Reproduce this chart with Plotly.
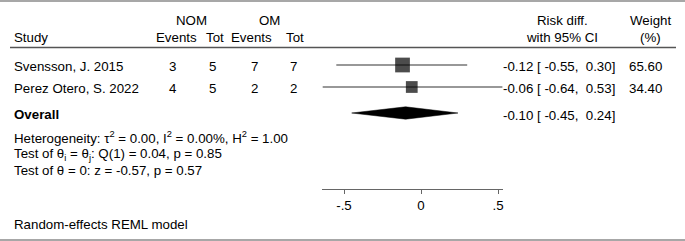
import plotly.graph_objects as go

# ---------------- data ----------------
studies = ["Svensson, J. 2015", "Perez Otero, S. 2022"]
nom_events = [3, 4]
nom_tot = [5, 5]
om_events = [7, 2]
om_tot = [7, 2]
risk_diff = [-0.12, -0.06]
ci_low = [-0.55, -0.64]
ci_high = [0.30, 0.53]
weights = [65.60, 34.40]

overall_label = "Overall"
overall_rd = -0.10
overall_low = -0.45
overall_high = 0.24

tau2, i2, h2 = 0.00, 0.00, 1.00
q_stat, q_df, q_p = 0.04, 1, 0.85
z_stat, z_p = -0.57, 0.57
model_note = "Random-effects REML model"

tick_vals = [-0.5, 0, 0.5]
tick_text = ["-.5", "0", ".5"]

# ---------------- layout constants (pixels) ----------------
W, H = 685, 241
FONT = "Liberation Sans, Arial, Helvetica, sans-serif"
FS = 13.3
row_y = [65, 87]
overall_y = 113
text_dy = 1
col_x = {"nom_ev": 172, "nom_tot": 213, "om_ev": 254, "om_tot": 293}
hdr_x = {"nom": 191, "om": 269, "nom_ev": 176, "nom_tot": 215, "om_ev": 252, "om_tot": 295}
ci_text_right = 617
weight_x = 645
axis_y = 189
xr = [min(ci_low), max(ci_high)]
px_per_unit = 154.0
x0_px = 421.0

fig = go.Figure()

# CI lines
for i in range(len(studies)):
    fig.add_trace(go.Scatter(
        x=[ci_low[i], ci_high[i]], y=[row_y[i], row_y[i]],
        mode="lines", line=dict(color="#333333", width=1.2),
        hoverinfo="skip", showlegend=False, cliponaxis=False))

# squares sized by weight
fig.add_trace(go.Scatter(
    x=risk_diff, y=row_y, mode="markers",
    marker=dict(symbol="square", color="black",
                size=[8.5 + 0.095 * w for w in weights], line=dict(width=0)),
    hoverinfo="skip", showlegend=False, cliponaxis=False))

# overall diamond
dh = 6.2
fig.add_trace(go.Scatter(
    x=[overall_low, overall_rd, overall_high, overall_rd, overall_low],
    y=[overall_y, overall_y - dh, overall_y, overall_y + dh, overall_y],
    mode="lines", fill="toself", fillcolor="black", line=dict(color="black", width=0.5),
    hoverinfo="skip", showlegend=False, cliponaxis=False))

ann = []

def txt(x, y, s, anchor="left", bold=False, yanchor="middle"):
    if bold:
        s = "<b>" + s + "</b>"
    ann.append(dict(x=x / W, y=y, xref="paper", yref="y", text=s, showarrow=False,
                    xanchor=anchor, yanchor=yanchor,
                    font=dict(family=FONT, size=FS, color="black")))

# headers
txt(12, 37, "Study")
txt(hdr_x["nom"], 20, "NOM", "center")
txt(hdr_x["om"], 20, "OM", "center")
txt(hdr_x["nom_ev"], 37, "Events", "center")
txt(hdr_x["nom_tot"], 37, "Tot", "center")
txt(hdr_x["om_ev"], 37, "Events", "center")
txt(hdr_x["om_tot"], 37, "Tot", "center")
txt(562, 20, "Risk diff.", "center")
txt(562, 37, "with 95% CI", "center")
txt(650, 20, "Weight", "center")
txt(650, 37, "(%)", "center")

NB = "\u00a0"

def fmt_ci(e, lo, hi):
    s = f"{e:.2f} [ {lo:5.2f}, {hi:5.2f}]"
    return s.replace(" ", NB)

for i, s in enumerate(studies):
    y = row_y[i] + text_dy
    txt(12, y, s)
    txt(col_x["nom_ev"], y, str(nom_events[i]), "center")
    txt(col_x["nom_tot"], y, str(nom_tot[i]), "center")
    txt(col_x["om_ev"], y, str(om_events[i]), "center")
    txt(col_x["om_tot"], y, str(om_tot[i]), "center")
    txt(ci_text_right, y, fmt_ci(risk_diff[i], ci_low[i], ci_high[i]), "right")
    txt(weight_x, y, f"{weights[i]:.2f}", "center")

txt(12, overall_y + text_dy, overall_label, bold=True)
txt(ci_text_right, overall_y + 2, fmt_ci(overall_rd, overall_low, overall_high), "right")

txt(12, 137, f"Heterogeneity: τ<sup>2</sup> = {tau2:.2f}, I<sup>2</sup> = {i2:.2f}%, H<sup>2</sup> = {h2:.2f}")
txt(12, 154, f"Test of θ<sub>i</sub> = θ<sub>j</sub>: Q({q_df}) = {q_stat:.2f}, p = {q_p:.2f}")
txt(12, 170, f"Test of θ = 0: z = {z_stat:.2f}, p = {z_p:.2f}")
txt(12, 224, model_note)

shapes = [
    dict(type="line", xref="paper", yref="y", x0=0, x1=1, y0=1, y1=1,
         line=dict(color="#8a8a8a", width=1.5)),
    dict(type="line", xref="paper", yref="y", x0=0, x1=1, y0=240, y1=240,
         line=dict(color="#8a8a8a", width=1.5)),
    dict(type="line", xref="paper", yref="y", x0=10 / W, x1=676 / W, y0=47.5, y1=47.5,
         line=dict(color="#555555", width=1.5)),
]

dom_lo = (x0_px + xr[0] * px_per_unit) / W
dom_hi = (x0_px + xr[1] * px_per_unit) / W

fig.update_layout(
    width=W, height=H,
    margin=dict(l=0, r=0, t=0, b=0, pad=0),
    paper_bgcolor="white", plot_bgcolor="white",
    showlegend=False,
    annotations=ann, shapes=shapes,
    xaxis=dict(range=xr, domain=[dom_lo, dom_hi], anchor="free",
               position=1 - axis_y / H,
               showline=True, linecolor="#666666", linewidth=1.2,
               ticks="outside", ticklen=4, tickcolor="#666666", tickwidth=1,
               tickvals=tick_vals, ticktext=tick_text,
               tickfont=dict(family=FONT, size=FS, color="black"),
               showgrid=False, zeroline=False, fixedrange=True),
    yaxis=dict(range=[H, 0], domain=[0, 1], visible=False, fixedrange=True),
    font=dict(family=FONT, size=FS, color="black"),
)

fig.write_html("out.html", config={"displayModeBar": False},
               post_script="document.body.style.margin='0';")
